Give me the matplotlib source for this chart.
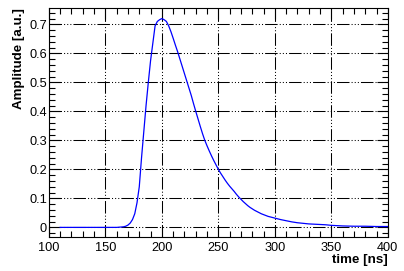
import numpy as np
import matplotlib
matplotlib.use("Agg")
import matplotlib.pyplot as plt
from matplotlib.ticker import MultipleLocator

plt.rcParams['font.family'] = ['Liberation Sans', 'DejaVu Sans']
plt.rcParams['lines.scale_dashes'] = False

# pulse shape (time in ns, amplitude in a.u.)
time_ns = [110, 160, 166, 168, 170, 172, 174, 176, 178, 180, 182, 184, 186, 188,
           190, 192, 194, 196, 198, 200, 202, 204, 206, 208, 210, 212, 214, 216,
           218, 220, 222, 224, 226, 228, 230, 232, 234, 236, 238, 240, 242, 244,
           246, 248, 250, 252, 254, 256, 258, 260, 262, 264, 266, 268, 270, 272,
           274, 276, 278, 280, 282, 284, 286, 288, 290, 292, 294, 296, 298, 300,
           305, 310, 315, 320, 325, 330, 335, 340, 345, 350, 355, 360, 370, 380,
           390, 400]
amplitude = [0.0, 0.0, 0.002, 0.004, 0.008, 0.015, 0.027, 0.047, 0.085, 0.14,
             0.24, 0.33, 0.42, 0.50, 0.575, 0.635, 0.695, 0.71, 0.716, 0.72,
             0.716, 0.71, 0.695, 0.675, 0.652, 0.628, 0.605, 0.58, 0.555, 0.53,
             0.505, 0.48, 0.455, 0.427, 0.40, 0.374, 0.348, 0.323, 0.30, 0.281,
             0.263, 0.246, 0.23, 0.215, 0.20, 0.187, 0.175, 0.163, 0.152, 0.142,
             0.133, 0.124, 0.114, 0.105, 0.097, 0.089, 0.082, 0.075, 0.069,
             0.064, 0.059, 0.055, 0.051, 0.047, 0.044, 0.041, 0.038, 0.036,
             0.034, 0.032, 0.027, 0.023, 0.019, 0.016, 0.014, 0.012, 0.011,
             0.010, 0.009, 0.007, 0.006, 0.005, 0.004, 0.004, 0.003, 0.003]

x_major = [100, 150, 200, 250, 300, 350, 400]
y_major = [0, 0.1, 0.2, 0.3, 0.4, 0.5, 0.6, 0.7]

fig = plt.figure(figsize=(4.04, 2.71), dpi=100)
ax = fig.add_axes([0.121, 0.124, 0.839, 0.845])

ax.plot(time_ns, amplitude, color='#0000ff', lw=0.9)

ax.set_xlim(100, 400)
ax.set_ylim(-0.0345, 0.755)
ax.set_xticks(x_major)
ax.set_yticks(y_major)
ax.set_yticklabels(['0', '0.1', '0.2', '0.3', '0.4', '0.5', '0.6', '0.7'])
ax.xaxis.set_minor_locator(MultipleLocator(10))
ax.yaxis.set_minor_locator(MultipleLocator(0.02))

ax.tick_params(which='both', direction='in', top=True, right=True,
               labelsize=9.2, width=0.8, colors='black')
ax.tick_params(which='major', length=8)
ax.tick_params(which='minor', length=4)
ax.tick_params(axis='x', pad=3)
ax.tick_params(axis='y', pad=1.5)

ax.grid(True, which='major', color='black', lw=0.75,
        dashes=(9, 1.5, 0.75, 1.5, 0.75, 1.5, 0.75, 1.5))
for s in ax.spines.values():
    s.set_linewidth(0.8)

ax.set_xlabel('time [ns]', fontsize=9.6, fontweight='bold', ha='right', x=1.0,
              labelpad=0)
ax.set_ylabel('Amplitude [a.u.]', fontsize=9.6, fontweight='bold', ha='right',
              y=1.0, labelpad=3)

fig.savefig('out.png', dpi=100)
